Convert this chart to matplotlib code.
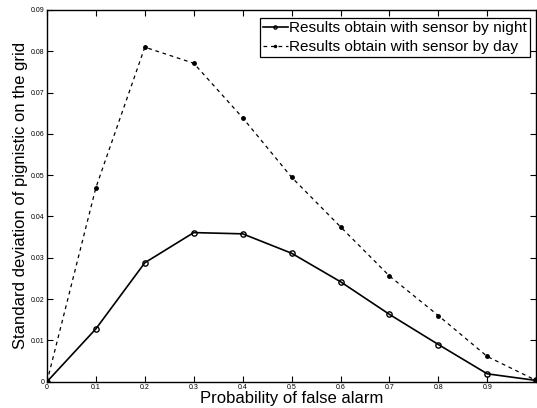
import numpy as np
import matplotlib
matplotlib.use("Agg")
import matplotlib.pyplot as plt

plt.rcParams['font.family'] = ['Liberation Sans', 'DejaVu Sans']

# probabilite de fausse alarme
pfa = [0.0, 0.1, 0.2, 0.3, 0.4, 0.5, 0.6, 0.7, 0.8, 0.9, 1.0]
night = [0.0, 0.0128, 0.0288, 0.0361, 0.0358, 0.0311, 0.0242, 0.0163, 0.0090, 0.0019, 0.0003]
day = [0.0, 0.0470, 0.0810, 0.0771, 0.0639, 0.0495, 0.0375, 0.0256, 0.0160, 0.0061, 0.0003]

xticks = [0, 0.1, 0.2, 0.3, 0.4, 0.5, 0.6, 0.7, 0.8, 0.9]
xticklabels = ['0', '0.1', '0.2', '0.3', '0.4', '0.5', '0.6', '0.7', '0.8', '0.9']
yticks = [0, 0.01, 0.02, 0.03, 0.04, 0.05, 0.06, 0.07, 0.08, 0.09]
yticklabels = ['0', '0.01', '0.02', '0.03', '0.04', '0.05', '0.06', '0.07', '0.08', '0.09']

fig = plt.figure(figsize=(5.37, 4.08), dpi=100)
ax = fig.add_axes([0.0875, 0.0645, 0.911, 0.911])

ax.plot(pfa, night, '-', color='black', lw=1.2, marker='o', ms=3.8,
        mfc='none', mew=1.0, label='Results obtain with sensor by night')
ax.plot(pfa, day, '--', color='black', lw=0.9, dashes=(3, 3), marker='.', ms=5,
        label='Results obtain with sensor by day')

ax.set_xlim(0, 1.0)
ax.set_ylim(0, 0.09)
ax.set_xticks(xticks)
ax.set_xticklabels(xticklabels)
ax.set_yticks(yticks)
ax.set_yticklabels(yticklabels)
ax.tick_params(direction='in', top=True, right=True, labelsize=5, length=4, width=0.8, pad=2)
for s in ax.spines.values():
    s.set_linewidth(1.0)

ax.set_xlabel('Probability of false alarm', fontsize=12, labelpad=0)
ax.set_ylabel('Standard deviation of pignistic on the grid', fontsize=12, labelpad=2)

leg = ax.legend(loc='upper right', fontsize=11.1, handlelength=1.6, handletextpad=0.1,
                borderpad=0.2, labelspacing=0.32, borderaxespad=0.0, fancybox=False,
                framealpha=1, edgecolor='black', markerscale=0.6,
                bbox_to_anchor=(0.9875, 0.978))
leg.get_frame().set_linewidth(0.9)

fig.savefig('out.png', dpi=100)
